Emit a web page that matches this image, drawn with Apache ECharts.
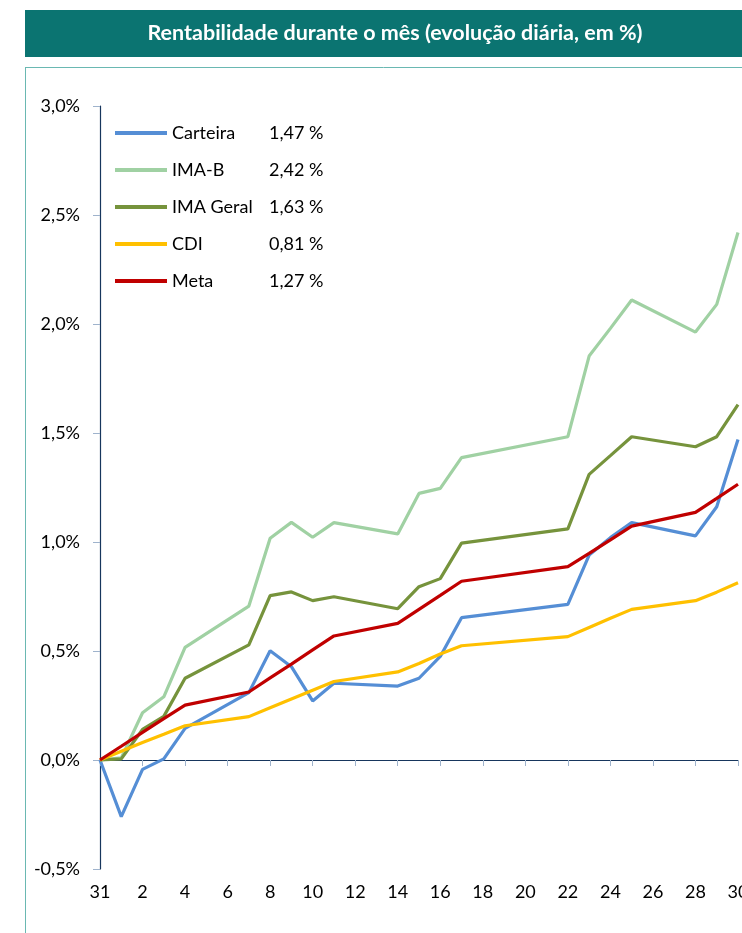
<!DOCTYPE html>
<html>
<head>
<meta charset="utf-8">
<script src="https://cdn.jsdelivr.net/npm/echarts@6/dist/echarts.min.js"></script>
<style>
html,body{margin:0;padding:0;background:#fff;}
#chart{width:742px;height:933px;}
</style>
</head>
<body>
<div id="chart"></div>
<script>
var days = ['31','1','2','3','4','5','6','7','8','9','10','11','12','13','14','15','16','17','18','19','20','21','22','23','24','25','26','27','28','29','30'];
var seriesNames = ['Carteira','IMA-B','IMA Geral','CDI','Meta'];
var legendValues = ['1,47 %','2,42 %','1,63 %','0,81 %','1,27 %'];
var n = null;
var carteira = [0,-0.26,-0.043,0.005,0.145,n,n,0.309,0.501,0.428,0.271,0.352,n,n,0.339,0.375,0.475,0.653,n,n,n,n,0.714,0.94,1.02,1.089,n,n,1.028,1.162,1.47];
var imaB = [0,0.01,0.217,0.29,0.517,n,n,0.706,1.017,1.09,1.022,1.089,n,n,1.037,1.223,1.246,1.387,n,n,n,n,1.483,1.853,1.98,2.11,n,n,1.963,2.09,2.42];
var imaGeral = [0,0.005,0.14,0.2,0.375,n,n,0.528,0.754,0.771,0.731,0.749,n,n,0.694,0.795,0.832,0.995,n,n,n,n,1.06,1.31,1.396,1.483,n,n,1.437,1.483,1.63];
var cdi = [0,0.04,0.08,0.118,0.157,n,n,0.199,0.24,0.28,0.32,0.36,n,n,0.404,0.443,0.486,0.524,n,n,n,n,0.566,0.608,0.65,0.691,n,n,0.731,0.77,0.813];
var meta = [0,0.063,0.127,0.19,0.252,n,n,0.312,0.377,0.44,0.505,0.569,n,n,0.627,0.691,0.755,0.82,n,n,n,n,0.887,0.948,1.01,1.073,n,n,1.136,1.2,1.265];

var dataList = [carteira, imaB, imaGeral, cdi, meta];
var colors = ['#558ed5','#a0d1a3','#76933c','#ffc000','#c00000'];
var FONT = 'Lato';

var chart = echarts.init(document.getElementById('chart'), null, {renderer:'canvas'});
var series = seriesNames.map(function(name, i){
  return {
    name: name,
    type: 'line',
    data: dataList[i],
    connectNulls: true,
    showSymbol: false,
    symbol: 'none',
    lineStyle: {width: 3.2, color: colors[i]},
    itemStyle: {color: colors[i]},
    animation: false,
    z: 2 + i
  };
});

chart.setOption({
  animation: false,
  color: colors,
  graphic: [
    {type:'rect', shape:{x:25, y:10, width:717, height:47}, style:{fill:'#0b7471'}},
    {type:'text', x:395, y:33, style:{text:'Rentabilidade durante o mês (evolução diária, em %)', fill:'#fff', font:'bold 21.5px ' + FONT, align:'center', verticalAlign:'middle'}},
    {type:'line', shape:{x1:25, y1:67.5, x2:742, y2:67.5}, style:{stroke:'#6ab8b2', lineWidth:1}},
    {type:'line', shape:{x1:25.5, y1:67, x2:25.5, y2:933}, style:{stroke:'#6ab8b2', lineWidth:1}}
  ],
  legend: {
    orient: 'vertical',
    left: 110,
    top: 119,
    itemGap: 19,
    itemWidth: 52,
    itemHeight: 4,
    icon: 'rect',
    data: seriesNames,
    formatter: function(name){
      var i = seriesNames.indexOf(name);
      return '{n|' + name + '}{v|' + legendValues[i] + '}';
    },
    textStyle: {
      fontFamily: FONT, fontSize: 18, color: '#000',
      rich: {
        n: {width: 97, fontFamily: FONT, fontSize: 18, color:'#000'},
        v: {fontFamily: FONT, fontSize: 18, color:'#000'}
      }
    }
  },
  grid: {left: 100, right: 4, top: 106, bottom: 64, containLabel: false, outerBoundsMode: 'none'},
  xAxis: [
    {
      type: 'category',
      data: days,
      boundaryGap: false,
      position: 'bottom',
      axisLine: {show: false, onZero: false},
      axisTick: {show: false},
      axisLabel: {interval: 1, margin: 14, color: '#000', fontFamily: FONT, fontSize: 18},
      splitLine: {show: false}
    },
    {
      type: 'category',
      data: days,
      boundaryGap: false,
      position: 'bottom',
      axisLine: {show: true, onZero: true, lineStyle: {color: '#17365d', width: 1.2}},
      axisTick: {show: true, interval: 1, length: 6, lineStyle: {color: '#9fb3cc'}},
      axisLabel: {show: false},
      splitLine: {show: false}
    }
  ],
  yAxis: {
    type: 'value',
    min: -0.5, max: 3.0, interval: 0.5,
    axisLine: {show: true, lineStyle: {color: '#17365d', width: 1.2}},
    axisTick: {show: true, length: 7, lineStyle: {color: '#9fb3cc'}},
    axisLabel: {margin: 20, color: '#000', fontFamily: FONT, fontSize: 18,
      formatter: function(v){ return v.toFixed(1).replace('.', ',') + '%'; }},
    splitLine: {show: false}
  },
  series: series
});
</script>
</body>
</html>
